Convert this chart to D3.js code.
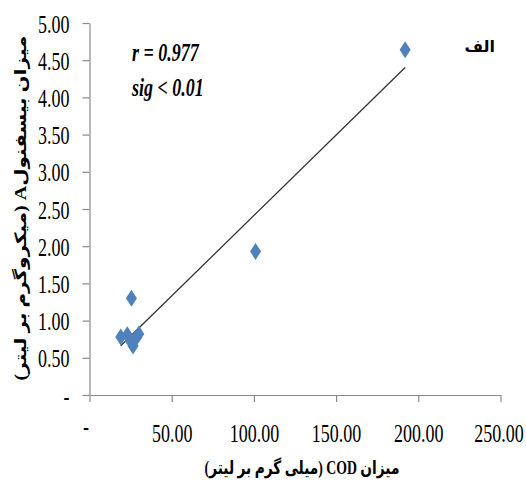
<!DOCTYPE html>
<html>
<head>
<meta charset="utf-8">
<script src="https://cdn.jsdelivr.net/npm/d3@7"></script>
<style>
  body { margin: 0; background: #fff; }
  svg { display: block; }
</style>
</head>
<body>
<svg id="chart"></svg>
<script>
const width = 526, height = 486;

// values
const codValues = [19, 23, 25, 26.5, 28.5, 30, 25.5, 101, 192];
const bpaValues = [0.78, 0.81, 0.72, 0.66, 0.77, 0.82, 1.30, 1.93, 4.64];
const xTicks = [0, 50, 100, 150, 200, 250];
const yTicks = [0, 0.5, 1, 1.5, 2, 2.5, 3, 3.5, 4, 4.5, 5];
const xTitleFa = "میزان COD (میلی گرم بر لیتر)";
const yTitleFa = "میزان بیسفنولA (میکروگرم بر لیتر)";
const panelLabel = "الف";
const statLines = ["r = 0.977", "sig < 0.01"];

const serif = "'Times New Roman', 'Liberation Serif', 'DejaVu Sans', serif";
const stretch = 1.45;

const svg = d3.select("#chart").attr("width", width).attr("height", height);

const x = d3.scaleLinear().domain([0, 250]).range([89.5, 500.5]);
const y = d3.scaleLinear().domain([0, 5]).range([395, 23]);

const fmt = v => v === 0 ? "-" : d3.format(".2f")(v);

// x axis
const gx = svg.append("g")
    .attr("transform", `translate(0,${y(0)})`)
    .call(d3.axisBottom(x).tickValues(xTicks).tickSize(7).tickSizeOuter(0).tickFormat(fmt));
// y axis
const gy = svg.append("g")
    .attr("transform", `translate(${x(0)},0)`)
    .call(d3.axisLeft(y).tickValues(yTicks).tickSize(7).tickSizeOuter(0).tickFormat(fmt));

[gx, gy].forEach(g => {
    g.select(".domain").attr("stroke", "#8a8a8a").attr("stroke-width", 1.2);
    g.selectAll(".tick line").attr("stroke", "#8a8a8a").attr("stroke-width", 1.2);
    g.selectAll(".tick text")
        .attr("fill", "#000")
        .style("font-family", serif)
        .style("font-size", "18px");
});

// stretched tick labels (the original font is tall and narrow)
gx.selectAll(".tick text")
    .attr("y", 0).attr("dy", "0.35em")
    .attr("transform", d => `translate(${d === 0 ? -4 : (d === 250 ? -2 : 0)},${d === 0 ? 31 : 38}) scale(1,${stretch})`);
gy.selectAll(".tick text")
    .attr("x", 0).attr("dy", "0.35em").attr("y", 0)
    .attr("transform", `translate(-20,0) scale(1,${stretch})`);

// regression line from the data
const mx = d3.mean(codValues), my = d3.mean(bpaValues);
const slope = d3.sum(codValues, (v, i) => (v - mx) * (bpaValues[i] - my)) /
              d3.sum(codValues, v => (v - mx) * (v - mx));
const intercept = my - slope * mx;
const [x0, x1] = d3.extent(codValues);
svg.append("line")
    .attr("x1", x(x0)).attr("y1", y(intercept + slope * x0))
    .attr("x2", x(x1)).attr("y2", y(intercept + slope * x1))
    .attr("stroke", "#333")
    .attr("stroke-width", 1.3);

// diamond markers
const diamond = "M0,-8.5L5.5,0L0,8.5L-5.5,0Z";
svg.append("g").selectAll("path")
    .data(codValues.map((c, i) => ({ c, b: bpaValues[i] })))
    .enter().append("path")
    .attr("d", diamond)
    .attr("fill", "#4f81bd")
    .attr("transform", d => `translate(${x(d.c)},${y(d.b)})`);

// statistics text
svg.append("g").selectAll("text")
    .data(statLines)
    .enter().append("text")
    .attr("transform", (d, i) => `translate(132,${52 + i * 35}) scale(1,${stretch})`)
    .attr("dy", "0.35em")
    .style("font-family", serif)
    .style("font-size", "18px")
    .style("font-weight", "bold")
    .style("font-style", "italic")
    .text(d => d);

// panel label
svg.append("text")
    .attr("x", 495).attr("y", 46)
    .attr("text-anchor", "start")
    .attr("direction", "rtl")
    .attr("dy", "0.35em")
    .style("font-family", serif)
    .style("font-size", "16px")
    .style("font-weight", "bold")
    .text(panelLabel);

// how much a text must be stretched to reach a given length
const fitText = (sel, target) => target / sel.node().getComputedTextLength();

// x title
const xt = svg.append("text")
    .attr("text-anchor", "middle")
    .attr("direction", "rtl")
    .style("unicode-bidi", "embed")
    .attr("dy", "0.35em")
    .style("font-family", serif)
    .style("font-size", "16px")
    .style("font-weight", "bold")
    .text(xTitleFa);
const kx = fitText(xt, 195);
xt.attr("transform", `translate(302,468) scale(${kx},1.15)`);

// y title
const yt = svg.append("text")
    .attr("text-anchor", "middle")
    .attr("direction", "rtl")
    .style("unicode-bidi", "embed")
    .attr("dy", "0.35em")
    .style("font-family", serif)
    .style("font-size", "15px")
    .style("font-weight", "bold")
    .text(yTitleFa);
const ky = fitText(yt, 345);
yt.attr("transform", `translate(20,208) rotate(-90) scale(${ky},1.05)`);
</script>
</body>
</html>
